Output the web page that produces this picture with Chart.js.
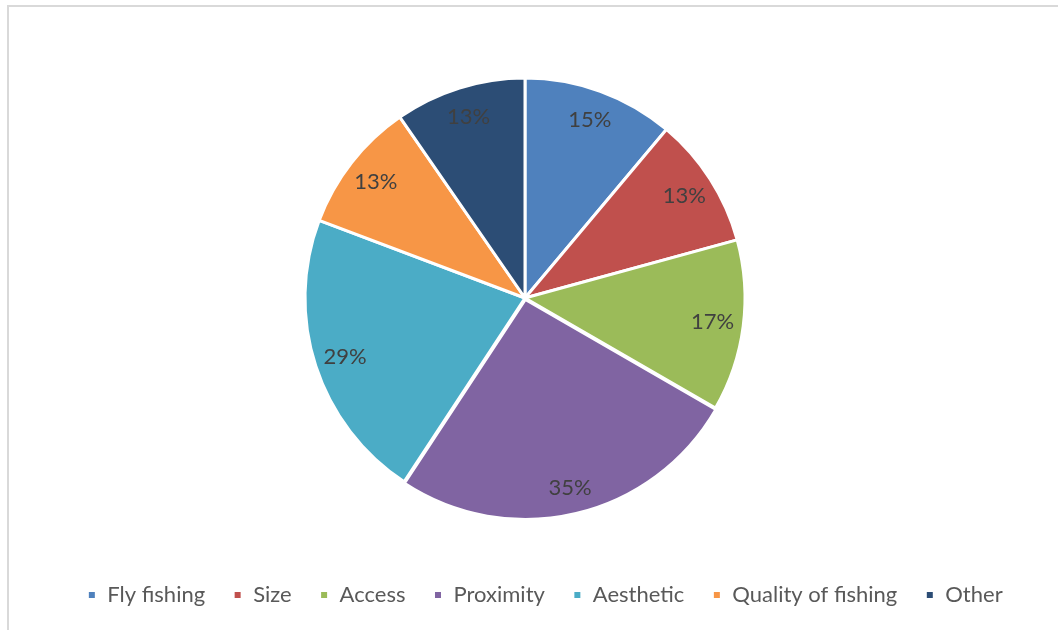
<!DOCTYPE html>
<html>
<head>
<meta charset="utf-8">
<script src="https://cdn.jsdelivr.net/npm/chart.js@4/dist/chart.umd.min.js"></script>
<style>
  html, body { margin: 0; padding: 0; background: #ffffff; overflow: hidden; }
  #frame { position: absolute; left: 7px; top: 5px; width: 1200px; height: 800px; border-left: 2px solid #d9d9d9; border-top: 2px solid #d9d9d9; box-sizing: border-box; }
  #wrap { position: absolute; left: 0; top: 0; width: 1058px; height: 630px; }
</style>
</head>
<body>
<div id="frame"></div>
<div id="wrap"><canvas id="c" width="1058" height="630"></canvas></div>
<script>
const categories = ["Fly fishing", "Size", "Access", "Proximity", "Aesthetic", "Quality of fishing", "Other"];
const values = [15, 13, 17, 35, 29, 13, 13];
const colors = ["#4F81BD", "#C0504D", "#9BBB59", "#8064A2", "#4BACC6", "#F79646", "#2C4D75"];
const sliceOffsets = [0, 0, 0, 6, 0, 0, 0];

const labelPlugin = {
  id: 'sliceLabels',
  afterDatasetsDraw(chart) {
    const ctx = chart.ctx;
    const meta = chart.getDatasetMeta(0);
    ctx.save();
    ctx.font = '22px Lato';
    ctx.fillStyle = '#404040';
    ctx.textAlign = 'center';
    ctx.textBaseline = 'middle';
    meta.data.forEach((arc, i) => {
      const p = arc.getProps(['x', 'y', 'startAngle', 'endAngle', 'outerRadius'], true);
      const mid = (p.startAngle + p.endAngle) / 2;
      const r = p.outerRadius * 0.86 + sliceOffsets[i];
      ctx.fillText(values[i] + '%', p.x + Math.cos(mid) * r, p.y + Math.sin(mid) * r);
    });
    ctx.restore();
  }
};

const legendShift = {
  id: 'legendShift',
  afterLayout(chart) {
    if (chart.legend) {
      chart.legend.left += 20;
      chart.legend.right += 20;
    }
  }
};

new Chart(document.getElementById('c'), {
  type: 'pie',
  data: {
    labels: categories,
    datasets: [{
      data: values,
      backgroundColor: colors,
      borderColor: '#ffffff',
      borderWidth: 3,
      offset: sliceOffsets,
      hoverOffset: 0
    }]
  },
  options: {
    responsive: false,
    animation: false,
    radius: 220,
    layout: { padding: { top: 40, bottom: 14, left: 0, right: 8 } },
    plugins: {
      tooltip: { enabled: false },
      legend: {
        position: 'bottom',
        labels: {
          font: { family: 'Lato', size: 22 },
          color: '#595959',
          boxWidth: 9,
          boxHeight: 9,
          padding: 28
        }
      }
    }
  },
  plugins: [labelPlugin, legendShift]
});
</script>
</body>
</html>
